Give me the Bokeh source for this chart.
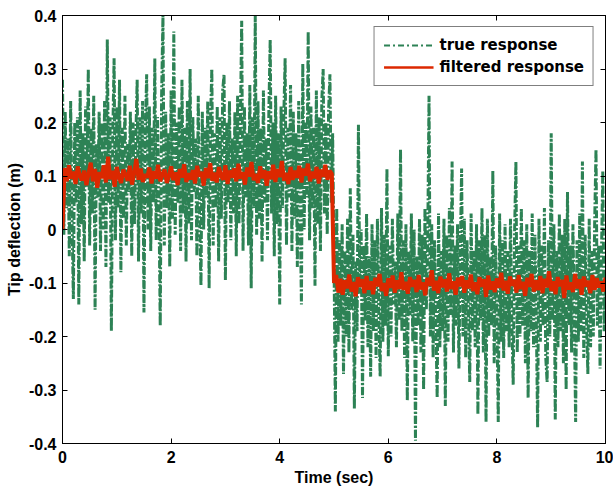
import numpy as np
from bokeh.plotting import figure
from bokeh.models import Range1d, LinearAxis, FixedTicker, Legend, LegendItem
from bokeh.embed import file_html
from bokeh.resources import INLINE

# ---------------- data ----------------
x_ticks = [0, 2, 4, 6, 8, 10]
x_tick_labels = ["0", "2", "4", "6", "8", "10"]
y_ticks = [-0.4, -0.3, -0.2, -0.1, 0.0, 0.1, 0.2, 0.3, 0.4]
y_tick_labels = ["-0.4", "-0.3", "-0.2", "-0.1", "0", "0.1", "0.2", "0.3", "0.4"]
series_names = ["true response", "filtered response"]

# true response, 0 .. 5 s
true_first = [
    0.28, -0.01, 0.22, 0.04, 0.17, -0.05, 0.24, 0.02, -0.13, 0.20,
    0.05, 0.21, -0.14, 0.26, 0.01, 0.18, -0.06, 0.23, 0.08, 0.30,
    -0.03, 0.19, 0.03, 0.25, -0.15, 0.16, 0.06, 0.22, -0.04, 0.20,
    0.00, 0.24, -0.07, 0.355, 0.05, 0.21, -0.19, 0.17, 0.32, -0.02,
    0.23, 0.04, 0.28, -0.08, 0.19, 0.02, 0.25, -0.03, 0.16, 0.07,
    0.22, -0.05, 0.20, 0.01, 0.17, 0.28, -0.06, 0.21, 0.03, 0.24,
    -0.155, 0.18, 0.29, 0.00, 0.23, -0.04, 0.19, 0.05, 0.32, -0.02,
    0.21, 0.06, -0.18, 0.25, 0.40, -0.03, 0.22, 0.04, 0.18, -0.07,
    0.26, 0.02, 0.37, -0.01, 0.20, 0.05, 0.23, -0.04, 0.28, 0.03,
    0.19, -0.06, 0.24, 0.01, 0.30, -0.02, 0.21, 0.07, 0.17, -0.05,
    0.25, 0.03, -0.105, 0.22, 0.00, 0.19, 0.06, 0.24, -0.11, 0.20,
    0.30, -0.03, 0.18, 0.04, 0.23, -0.06, 0.21, 0.02, 0.26, 0.29,
    -0.095, 0.20, 0.05, 0.24, -0.02, 0.17, 0.03, 0.22, -0.05, 0.25,
    0.01, 0.19, 0.39, -0.04, 0.23, 0.06, 0.18, -0.03, 0.27, -0.11,
    0.21, 0.04, 0.40, -0.01, 0.24, 0.02, 0.19, -0.06, 0.26, 0.05,
    0.17, -0.02, 0.22, 0.355, 0.03, 0.20, -0.05, 0.25, 0.01, 0.18,
    -0.14, 0.23, 0.04, 0.21, 0.32, -0.03, 0.19, 0.06, 0.27, -0.04,
    0.22, 0.02, 0.18, -0.07, 0.24, 0.05, -0.14, 0.31, 0.00, 0.20,
    0.06, 0.37, -0.02, 0.23, 0.04, 0.19, -0.105, 0.26, 0.01, 0.21,
    -0.04, 0.24, 0.30, 0.03, 0.20, -0.01, 0.22, 0.29, 0.05, 0.18,
]
# true response, 5 .. 10 s
true_second = [
    -0.05, -0.34, 0.04, -0.21, -0.02, -0.18, 0.01, -0.27, -0.04, -0.20,
    0.02, -0.23, 0.077, -0.15, -0.01, -0.335, -0.06, -0.19, 0.196, -0.12,
    0.00, -0.315, -0.03, -0.17, 0.03, -0.22, -0.05, -0.275, 0.01, -0.19,
    -0.02, -0.24, 0.02, -0.16, -0.275, 0.04, -0.21, -0.01, -0.18, 0.114,
    -0.237, -0.03, -0.20, 0.02, -0.14, -0.06, -0.22, 0.03, -0.17, 0.15,
    -0.19, -0.02, -0.24, 0.01, -0.32, -0.04, -0.16, 0.03, -0.21, 0.00,
    -0.395, -0.05, -0.18, 0.02, -0.23, -0.01, -0.30, 0.04, -0.15, -0.03,
    0.25, -0.20, 0.01, -0.24, -0.02, -0.17, -0.315, 0.03, -0.22, -0.04,
    -0.19, 0.02, -0.33, -0.01, -0.21, 0.04, -0.16, 0.127, -0.23, -0.03,
    -0.18, 0.01, -0.26, -0.05, 0.114, -0.20, 0.02, -0.24, -0.02, -0.15,
    -0.285, 0.03, -0.19, -0.04, -0.22, 0.01, -0.346, -0.02, -0.17, 0.04,
    -0.23, -0.01, -0.36, 0.02, -0.20, -0.05, -0.18, 0.11, -0.25, -0.03,
    -0.16, -0.36, 0.03, -0.21, -0.02, -0.24, 0.01, -0.19, -0.04, -0.22,
    0.02, -0.17, -0.29, -0.01, 0.127, -0.23, -0.03, -0.20, 0.04, -0.18,
    -0.02, -0.25, 0.01, -0.315, -0.04, -0.19, 0.03, -0.22, -0.01, -0.16,
    -0.37, 0.02, -0.21, -0.03, -0.18, 0.04, -0.24, -0.285, -0.02, -0.20,
    0.18, -0.17, 0.01, -0.355, -0.04, -0.22, 0.03, -0.19, -0.01, -0.25,
    0.02, -0.30, 0.07, -0.18, -0.03, -0.23, 0.01, -0.16, -0.36, -0.02,
    -0.21, 0.03, -0.19, 0.127, -0.24, -0.01, -0.17, -0.27, 0.02, -0.22,
    -0.04, -0.20, 0.01, 0.15, -0.18, -0.03, -0.26, -0.05, 0.11, -0.19,
    -0.08,
]

# filtered response, 0 .. 5 s
filt_first = [
    0.0, 0.115, 0.09, 0.12, 0.095, 0.108, 0.085, 0.118, 0.1, 0.092,
    0.11, 0.083, 0.105, 0.125, 0.09, 0.113, 0.078, 0.107, 0.096, 0.12,
    0.088, 0.136, 0.094, 0.11, 0.08, 0.117, 0.098, 0.087, 0.112, 0.102,
    0.091, 0.119, 0.084, 0.106, 0.132, 0.093, 0.114, 0.089, 0.103, 0.097,
    0.116, 0.086, 0.109, 0.095, 0.121, 0.09, 0.104, 0.112, 0.087, 0.1,
    0.118, 0.092, 0.107, 0.083, 0.113, 0.097, 0.122, 0.089, 0.105, 0.094,
    0.111, 0.086, 0.119, 0.099, 0.108, 0.082, 0.115, 0.096, 0.124, 0.091,
    0.106, 0.088, 0.117, 0.1, 0.093, 0.12, 0.085, 0.11, 0.097, 0.114,
    0.09, 0.123, 0.095, 0.107, 0.084, 0.116, 0.099, 0.126, 0.092, 0.104,
    0.087, 0.118, 0.096, 0.111, 0.082, 0.109, 0.094, 0.121, 0.089, 0.113,
    0.098, 0.128, 0.091, 0.106, 0.085, 0.117, 0.093, 0.11, 0.097, 0.119,
    0.088, 0.114, 0.101, 0.123, 0.09, 0.108, 0.096, 0.117, 0.086, 0.112,
    0.099, 0.121, 0.093, 0.11, 0.104,
]
# filtered response, 5 .. 10 s
filt_second = [
    -0.1, -0.085, -0.118, -0.092, -0.122,
    -0.095, -0.11, -0.084, -0.116, -0.098, -0.125, -0.089, -0.107, -0.093, -0.119,
    -0.087, -0.112, -0.097, -0.121, -0.09, -0.106, -0.083, -0.115, -0.1, -0.124,
    -0.091, -0.109, -0.086, -0.118, -0.095, -0.111, -0.08, -0.113, -0.098, -0.12,
    -0.089, -0.107, -0.094, -0.117, -0.085, -0.112, -0.099, -0.123, -0.09, -0.105,
    -0.076, -0.114, -0.096, -0.119, -0.088, -0.108, -0.093, -0.116, -0.082, -0.111,
    -0.097, -0.122, -0.09, -0.106, -0.087, -0.118, -0.095, -0.11, -0.084, -0.115,
    -0.099, -0.121, -0.089, -0.107, -0.093, -0.126, -0.086, -0.112, -0.097, -0.117,
    -0.091, -0.109, -0.081, -0.114, -0.096, -0.12, -0.088, -0.105, -0.094, -0.118,
    -0.085, -0.111, -0.098, -0.124, -0.09, -0.107, -0.083, -0.116, -0.095, -0.113,
    -0.087, -0.119, -0.092, -0.108, -0.078, -0.115, -0.097, -0.121, -0.089, -0.106,
    -0.094, -0.128, -0.086, -0.112, -0.099, -0.117, -0.083, -0.11, -0.093, -0.122,
    -0.088, -0.106, -0.096, -0.119, -0.085, -0.113, -0.091, -0.108, -0.097, -0.116,
    -0.09,
]

true_response = true_first + true_second
filtered_response = filt_first + filt_second
t_true = np.linspace(0, 10, len(true_response))
t_filt = np.linspace(0, 10, len(filtered_response))

GREEN = "#2d8255"
RED = "#dc2800"
TICK_FONT = "Liberation Sans"

p = figure(width=613, height=492, output_backend="svg", toolbar_location=None,
           x_range=Range1d(0, 10), y_range=Range1d(-0.4, 0.4),
           min_border_left=62, min_border_right=8, min_border_top=15,
           min_border_bottom=49)
p.background_fill_color = "white"
p.border_fill_color = "white"
p.xgrid.visible = False
p.ygrid.visible = False
p.outline_line_color = "black"
p.outline_line_width = 1

p.line(t_true, true_response, line_color=GREEN, line_width=3,
       line_dash="8 2 2 2")
p.line(t_filt, filtered_response, line_color=RED, line_width=4)

# thinner strokes for the legend keys (proxy renderers holding only NaN)
nan_pt = [float("nan")]
leg_true = p.line(nan_pt, nan_pt, line_color=GREEN, line_width=2, line_dash="6 3 2 3")
leg_filt = p.line(nan_pt, nan_pt, line_color=RED, line_width=2.5)

def style_axis(ax, ticks, labels, show_labels=True):
    ax.ticker = FixedTicker(ticks=ticks)
    ax.major_tick_in = 5
    ax.major_tick_out = 0
    ax.minor_tick_line_color = None
    ax.axis_line_color = "black"
    ax.major_tick_line_color = "black"
    if show_labels:
        ax.major_label_overrides = {t: l for t, l in zip(ticks, labels)}
        ax.major_label_text_font = TICK_FONT
        ax.major_label_text_font_style = "bold"
        ax.major_label_text_color = "black"
        ax.major_label_text_font_size = "16px"
    else:
        ax.major_label_text_color = None
        ax.major_label_text_font_size = "1px"
        ax.major_label_standoff = 0

style_axis(p.xaxis[0], x_ticks, x_tick_labels)
style_axis(p.yaxis[0], y_ticks, y_tick_labels)
p.xaxis[0].major_label_standoff = 7
p.yaxis[0].major_label_standoff = 6

p.xaxis[0].axis_label = "Time (sec)"
p.yaxis[0].axis_label = "Tip deflection (m)"
for ax in (p.xaxis[0], p.yaxis[0]):
    ax.axis_label_text_font = TICK_FONT
    ax.axis_label_text_font_style = "bold"
    ax.axis_label_text_font_size = "16px"
    ax.axis_label_text_color = "black"
p.xaxis[0].axis_label_standoff = 3
p.yaxis[0].axis_label_standoff = 3

top_ax = LinearAxis()
style_axis(top_ax, x_ticks, x_tick_labels, show_labels=False)
p.add_layout(top_ax, "above")
right_ax = LinearAxis()
style_axis(right_ax, y_ticks, y_tick_labels, show_labels=False)
p.add_layout(right_ax, "right")

legend = Legend(items=[LegendItem(label=series_names[0], renderers=[leg_true], index=0),
                       LegendItem(label=series_names[1], renderers=[leg_filt], index=0)],
                location="top_right")
legend.margin = 11
legend.padding = 9
legend.spacing = 4
legend.glyph_width = 50
legend.glyph_height = 18
legend.label_height = 18
legend.label_standoff = 6
legend.label_text_font = "DejaVu Sans"
legend.label_text_font_style = "bold"
legend.label_text_font_size = "15px"
legend.label_text_color = "black"
legend.border_line_color = "black"
legend.border_line_width = 1
legend.background_fill_color = "white"
legend.background_fill_alpha = 1
p.add_layout(legend)

open("out.html", "w").write(file_html(p, INLINE))
